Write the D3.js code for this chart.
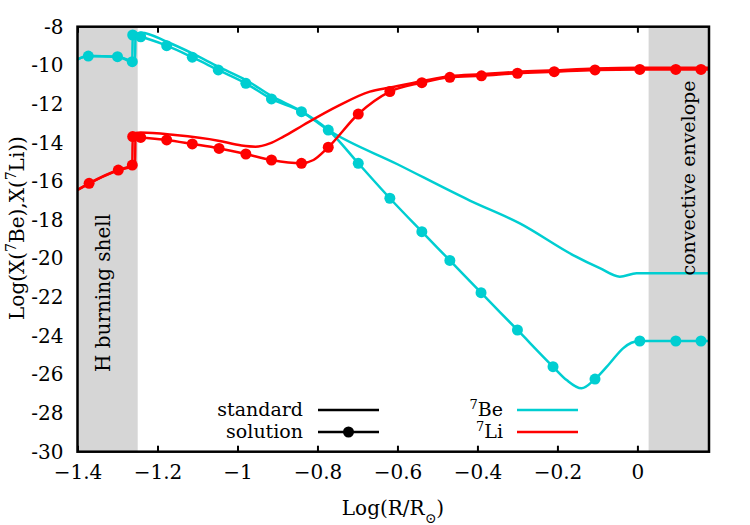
<!DOCTYPE html>
<html>
<head>
<meta charset="utf-8">
<script src="https://cdn.jsdelivr.net/npm/d3@7"></script>
<style>
  body { margin: 0; background: #fff; }
  svg text { font-family: "DejaVu Serif", serif; }
</style>
</head>
<body>
<svg id="drawing_region"></svg>
<script>
// 7Be, standard model
const beStdX = [-1.40, -1.373, -1.30, -1.256, -1.255, -1.24, -1.177, -1.113, -1.048, -0.979, -0.915, -0.840, -0.773, -0.600, -0.419, -0.294, -0.161, -0.094, -0.044, -0.002, 0.179];
const beStdY = [-9.69, -9.52, -9.55, -9.80, -8.40, -8.31, -8.78, -9.38, -10.07, -10.76, -11.59, -12.38, -13.35, -15.12, -17.0, -18.18, -19.82, -20.5, -20.94, -20.76, -20.76];

// 7Be, solution (dot = 1 where a marker is drawn)
const beSolX = [-1.40, -1.373, -1.30, -1.263, -1.262, -1.242, -1.177, -1.113, -1.048, -0.979, -0.915, -0.840, -0.773, -0.698, -0.619, -0.539, -0.469, -0.391, -0.300, -0.211, -0.177, -0.140, -0.106, -0.069, -0.036, -0.015, 0.006, 0.096, 0.159, 0.179];
const beSolY = [-9.69, -9.52, -9.55, -9.81, -8.43, -8.52, -8.98, -9.58, -10.24, -10.93, -11.74, -12.40, -13.35, -15.07, -16.88, -18.61, -20.10, -21.77, -23.70, -25.60, -26.29, -26.72, -26.24, -25.42, -24.65, -24.36, -24.27, -24.27, -24.27, -24.27];
const beSolDot = [0, 1, 1, 1, 1, 1, 1, 1, 1, 1, 1, 1, 1, 1, 1, 1, 1, 1, 1, 1, 0, 0, 1, 0, 0, 0, 1, 1, 1, 0];

// 7Li, standard model
const liStdX = [-1.40, -1.371, -1.298, -1.256, -1.255, -1.242, -1.156, -1.048, -0.990, -0.955, -0.919, -0.885, -0.835, -0.752, -0.669, -0.619, -0.539, -0.469, -0.390, -0.300, -0.208, -0.106, 0.006, 0.179];
const liStdY = [-16.45, -16.11, -15.42, -15.18, -13.50, -13.48, -13.61, -13.90, -14.15, -14.21, -14.04, -13.69, -13.09, -12.14, -11.36, -11.15, -10.82, -10.56, -10.46, -10.34, -10.26, -10.17, -10.13, -10.13];

// 7Li, solution
const liSolX = [-1.40, -1.371, -1.298, -1.263, -1.262, -1.242, -1.177, -1.113, -1.046, -0.979, -0.915, -0.840, -0.810, -0.773, -0.698, -0.619, -0.539, -0.469, -0.390, -0.300, -0.208, -0.106, 0.006, 0.096, 0.159, 0.179];
const liSolY = [-16.45, -16.11, -15.42, -15.16, -13.69, -13.73, -13.86, -14.07, -14.30, -14.59, -14.90, -15.07, -14.90, -14.24, -12.52, -11.36, -10.90, -10.62, -10.54, -10.41, -10.33, -10.24, -10.21, -10.21, -10.21, -10.21];
const liSolDot = [0, 1, 1, 1, 1, 1, 1, 1, 1, 1, 1, 1, 0, 1, 1, 1, 1, 1, 1, 1, 1, 1, 1, 1, 1, 0];

const xTicks = [-1.4, -1.2, -1, -0.8, -0.6, -0.4, -0.2, 0];
const yTicks = [-30, -28, -26, -24, -22, -20, -18, -16, -14, -12, -10, -8];
const shellRange = [-1.4, -1.2495];
const envelopeRange = [0.028, 0.179];

const colBe = '#00ced1';
const colLi = '#ff0000';
const font = '"DejaVu Serif", serif';

const width = 750, height = 525;
const margin = {top: 26.7, right: 41, bottom: 73.3, left: 77.5};

const svg = d3.select('#drawing_region')
    .attr('width', width)
    .attr('height', height)
    .attr('font-family', font);

const x = d3.scaleLinear().domain([-1.4, 0.179]).range([margin.left, width - margin.right]);
const y = d3.scaleLinear().domain([-30, -8]).range([height - margin.bottom, margin.top]);

// grey regions
svg.selectAll('rect.zone')
    .data([shellRange, envelopeRange])
    .enter().append('rect')
    .attr('x', d => x(d[0]))
    .attr('y', y(-8))
    .attr('width', d => x(d[1]) - x(d[0]))
    .attr('height', y(-30) - y(-8))
    .attr('fill', '#d6d6d6');

// ticks (inward, bottom and top)
const fmtX = d => d === 0 ? '0' : (d < 0 ? '\u2212' : '') + Math.abs(d);
svg.append('g')
    .attr('transform', `translate(0,${y(-30)})`)
    .call(d3.axisBottom(x).tickValues(xTicks).tickSize(-6).tickPadding(13).tickFormat(fmtX))
    .attr('font-family', font)
    .call(g => g.select('.domain').remove())
    .call(g => g.selectAll('line').attr('stroke', '#000').attr('stroke-width', 2))
    .call(g => g.selectAll('text').attr('font-size', 20).attr('fill', '#000'));

svg.append('g')
    .attr('transform', `translate(0,${y(-8)})`)
    .call(d3.axisTop(x).tickValues(xTicks).tickSize(-6).tickFormat(''))
    .call(g => g.select('.domain').remove())
    .call(g => g.selectAll('line').attr('stroke', '#000').attr('stroke-width', 2));

svg.append('g')
    .attr('transform', `translate(${x(-1.4)},0)`)
    .call(d3.axisLeft(y).tickValues(yTicks).tickSize(0).tickPadding(14).tickFormat(d => '-' + Math.abs(d)))
    .attr('font-family', font)
    .call(g => g.select('.domain').remove())
    .call(g => g.selectAll('text').attr('font-size', 20).attr('fill', '#000'));

// curves
const line = d3.line()
    .x(d => x(d[0]))
    .y(d => y(d[1]))
    .curve(d3.curveMonotoneX);

const series = [
    {xs: beStdX, ys: beStdY, color: colBe},
    {xs: beSolX, ys: beSolY, color: colBe, dots: beSolDot},
    {xs: liStdX, ys: liStdY, color: colLi},
    {xs: liSolX, ys: liSolY, color: colLi, dots: liSolDot}
];

series.forEach(s => {
    const pts = s.xs.map((v, i) => [v, s.ys[i]]);
    svg.append('path')
        .datum(pts)
        .attr('d', line)
        .attr('fill', 'none')
        .attr('stroke', s.color)
        .attr('stroke-width', 2.5);
    if (s.dots) {
        svg.append('g').selectAll('circle')
            .data(pts.filter((p, i) => s.dots[i]))
            .enter().append('circle')
            .attr('cx', d => x(d[0]))
            .attr('cy', d => y(d[1]))
            .attr('r', 5.5)
            .attr('fill', s.color);
    }
});

// frame
svg.append('rect')
    .attr('x', x(-1.4))
    .attr('y', y(-8))
    .attr('width', x(0.179) - x(-1.4))
    .attr('height', y(-30) - y(-8))
    .attr('fill', 'none')
    .attr('stroke', '#000')
    .attr('stroke-width', 2.5);

// region labels
svg.append('text')
    .attr('transform', `translate(110,293) rotate(-90)`)
    .attr('text-anchor', 'middle')
    .attr('font-size', 20)
    .text('H burning shell');

svg.append('text')
    .attr('transform', `translate(695,178) rotate(-90)`)
    .attr('text-anchor', 'middle')
    .attr('font-size', 19)
    .text('convective envelope');

// axis titles
const yl = svg.append('text')
    .attr('transform', `translate(24,228) rotate(-90)`)
    .attr('text-anchor', 'middle')
    .attr('font-size', 20);
yl.append('tspan').text('Log(X(');
yl.append('tspan').attr('baseline-shift', 'super').attr('font-size', 14).text('7');
yl.append('tspan').text('Be),X(');
yl.append('tspan').attr('baseline-shift', 'super').attr('font-size', 14).text('7');
yl.append('tspan').text('Li))');

const xl = svg.append('text')
    .attr('x', 393)
    .attr('y', 515)
    .attr('text-anchor', 'middle')
    .attr('font-size', 20);
xl.append('tspan').text('Log(R/R');
xl.append('tspan').attr('baseline-shift', 'sub').attr('font-size', 14).text('\u2299');
xl.append('tspan').text(')');

// legend
const legend = [
    {label: 'standard', color: '#000', dot: false, tx: 303, lx: 318, y: 410},
    {label: 'solution', color: '#000', dot: true, tx: 303, lx: 318, y: 432},
    {label: 'Be', sup: '7', color: colBe, dot: false, tx: 503, lx: 517, y: 410},
    {label: 'Li', sup: '7', color: colLi, dot: false, tx: 503, lx: 517, y: 432}
];
legend.forEach(l => {
    const t = svg.append('text')
        .attr('x', l.tx)
        .attr('y', l.y + 6)
        .attr('text-anchor', 'end')
        .attr('font-size', 19);
    if (l.sup) t.append('tspan').attr('baseline-shift', 'super').attr('font-size', 13).text(l.sup);
    t.append('tspan').text(l.label);
    svg.append('line')
        .attr('x1', l.lx).attr('x2', l.lx + 61)
        .attr('y1', l.y).attr('y2', l.y)
        .attr('stroke', l.color)
        .attr('stroke-width', 2.5);
    if (l.dot) {
        svg.append('circle')
            .attr('cx', l.lx + 30.5).attr('cy', l.y)
            .attr('r', 5.5).attr('fill', l.color);
    }
});
</script>
</body>
</html>
